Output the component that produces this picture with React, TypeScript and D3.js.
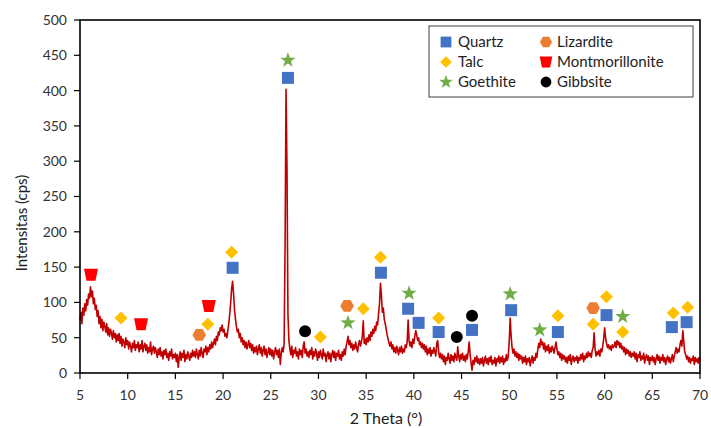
import React from 'react';
import * as d3 from 'd3';

// XRD scan, 2 theta from 5 to 70 in 0.1 steps
const thetaStart = 5;
const thetaStep = 0.1;
const intensity = [
  74, 86, 70, 92, 82, 98, 88, 104, 96, 112, 106, 122, 108, 116, 98, 106, 90, 96, 80, 88,
  70, 80, 64, 76, 60, 72, 66, 58, 70, 54, 64, 52, 62, 56, 48, 60, 50, 56, 44, 54,
  46, 56, 42, 52, 38, 48, 44, 36, 50, 40, 46, 34, 44, 38, 30, 42, 36, 46, 32, 40,
  36, 44, 30, 40, 34, 46, 30, 38, 42, 32, 40, 28, 36, 30, 44, 26, 34, 38, 28, 36,
  30, 22, 34, 26, 36, 24, 30, 20, 32, 26, 34, 22, 28, 18, 30, 24, 34, 20, 26, 22,
  28, 16, 26, 8, 22, 30, 18, 28, 22, 32, 16, 26, 20, 30, 24, 18, 28, 22, 32, 24,
  30, 22, 34, 26, 20, 32, 24, 36, 28, 22, 34, 30, 38, 26, 36, 30, 40, 34, 44, 36,
  42, 48, 40, 52, 46, 58, 54, 64, 60, 68, 58, 62, 52, 56, 50, 60, 70, 84, 100, 120,
  130, 112, 90, 76, 66, 58, 62, 50, 56, 44, 50, 40, 46, 36, 44, 34, 40, 46, 36, 42,
  32, 40, 28, 36, 30, 38, 26, 34, 40, 28, 36, 24, 32, 38, 26, 34, 22, 30, 36, 26,
  34, 24, 32, 20, 30, 36, 26, 32, 22, 34, 12, 28, 36, 30, 42, 180, 402, 290, 84, 46,
  34, 26, 38, 22, 32, 28, 36, 24, 30, 20, 34, 26, 32, 22, 38, 44, 28, 34, 24, 30,
  22, 32, 26, 36, 20, 30, 24, 34, 28, 18, 30, 22, 32, 26, 20, 34, 24, 28, 16, 26,
  30, 20, 28, 16, 26, 32, 22, 30, 18, 28, 24, 32, 20, 26, 18, 30, 24, 34, 26, 38,
  44, 52, 40, 46, 36, 42, 32, 40, 34, 44, 36, 30, 40, 46, 38, 44, 52, 74, 42, 48,
  40, 50, 44, 54, 46, 58, 52, 62, 56, 66, 60, 72, 68, 84, 98, 127, 110, 86, 92, 76,
  70, 62, 54, 48, 42, 38, 44, 34, 40, 30, 36, 28, 38, 32, 26, 36, 30, 38, 28, 34,
  30, 40, 36, 44, 75, 46, 38, 44, 36, 48, 42, 52, 60, 54, 46, 50, 40, 44, 36, 42,
  34, 40, 30, 38, 26, 34, 28, 36, 24, 32, 28, 36, 30, 24, 42, 46, 30, 22, 28, 20,
  26, 16, 24, 12, 22, 18, 28, 20, 14, 26, 18, 24, 16, 28, 22, 18, 37, 24, 16, 26,
  20, 28, 18, 24, 16, 26, 20, 30, 44, 26, 14, 4, 18, 12, 22, 16, 24, 14, 20, 12,
  20, 14, 22, 10, 18, 24, 14, 20, 12, 22, 16, 24, 12, 18, 14, 22, 10, 20, 16, 24,
  14, 22, 16, 24, 12, 20, 16, 26, 18, 24, 45, 78, 52, 36, 28, 34, 24, 30, 22, 28,
  18, 26, 20, 24, 14, 22, 16, 24, 12, 20, 16, 22, 10, 18, 24, 14, 22, 18, 28, 22,
  34, 42, 36, 48, 40, 44, 34, 42, 30, 38, 32, 40, 28, 36, 30, 38, 34, 28, 36, 44,
  34, 26, 30, 22, 28, 18, 26, 20, 24, 16, 22, 14, 24, 18, 26, 12, 20, 24, 16, 22,
  18, 24, 14, 22, 18, 26, 20, 28, 16, 24, 20, 28, 22, 30, 24, 28, 22, 32, 36, 57,
  34, 24, 30, 26, 32, 24, 34, 30, 38, 48, 64, 50, 42, 36, 40, 34, 38, 32, 40, 36,
  38, 44, 36, 46, 40, 44, 36, 42, 34, 38, 30, 36, 26, 34, 28, 32, 24, 30, 22, 28,
  24, 30, 20, 28, 16, 26, 22, 30, 18, 24, 20, 28, 14, 22, 26, 18, 24, 12, 22, 18,
  24, 16, 22, 12, 20, 26, 18, 24, 14, 22, 18, 26, 16, 22, 12, 20, 24, 16, 22, 14,
  20, 26, 16, 24, 30, 36, 28, 34, 30, 40, 46, 38, 60, 44, 30, 26, 20, 24, 16, 22,
  14, 20, 18, 24, 12, 22, 16, 20, 14, 22, 18,
];

// peak markers [2theta, position]
const quartz = [[26.8, 418], [21.0, 149], [36.55, 142], [39.4, 91], [40.5, 71], [42.6, 58], [46.1, 61], [50.2, 89], [55.1, 58], [60.2, 82], [67.05, 65], [68.6, 72]];
const talc = [[9.3, 78], [18.4, 69], [20.9, 171], [30.2, 51], [34.7, 91], [36.5, 164], [42.6, 78], [55.1, 81], [58.8, 69], [60.2, 108], [61.9, 58], [67.2, 85], [68.7, 93]];
const goethite = [[26.8, 443], [33.1, 71], [39.5, 113], [50.1, 112], [53.2, 61], [61.9, 80]];
const lizardite = [[17.5, 54], [33.0, 95], [58.8, 92]];
const montmorillonite = [[6.15, 139], [11.4, 69], [18.5, 95]];
const gibbsite = [[28.6, 59], [44.5, 51], [46.1, 81]];

const xTicks = d3.range(5, 71, 5);
const yTicks = d3.range(0, 501, 50);

const font = 'Lato, "Open Sans", sans-serif';

const starPath = (ro: number, ri: number) => {
  const pts = d3.range(10).map((i) => {
    const r = i % 2 === 0 ? ro : ri;
    const a = -Math.PI / 2 + (i * Math.PI) / 5;
    return [r * Math.cos(a), r * Math.sin(a)];
  });
  return 'M' + pts.map((p) => p.join(',')).join('L') + 'Z';
};
const hexPath = (r: number) => {
  const pts = d3.range(6).map((i) => [r * Math.cos((i * Math.PI) / 3), r * Math.sin((i * Math.PI) / 3)]);
  return 'M' + pts.map((p) => p.join(',')).join('L') + 'Z';
};

const shapes: Record<string, { d: string; fill: string }> = {
  Quartz: { d: 'M-6,-6h12v12h-12z', fill: '#4472C4' },
  Talc: { d: 'M0,-6.5L6.5,0L0,6.5L-6.5,0Z', fill: '#FFC000' },
  Goethite: { d: starPath(8, 3.2), fill: '#70AD47' },
  Lizardite: { d: hexPath(6.8), fill: '#ED7D31' },
  Montmorillonite: { d: 'M-7,-6L7,-6L4.5,6L-4.5,6Z', fill: '#FF0000' },
  Gibbsite: { d: d3.symbol(d3.symbolCircle, 113)() as string, fill: '#000000' },
};

const series: [string, number[][]][] = [
  ['Quartz', quartz],
  ['Talc', talc],
  ['Goethite', goethite],
  ['Lizardite', lizardite],
  ['Montmorillonite', montmorillonite],
  ['Gibbsite', gibbsite],
];

export default function App() {
  const width = 711;
  const height = 428;
  const left = 80, right = 700, top = 20, bottom = 373;

  const x = d3.scaleLinear().domain([5, 70]).range([left, right]);
  const y = d3.scaleLinear().domain([0, 500]).range([bottom, top]);

  const line = d3
    .line<number>()
    .x((d, i) => x(thetaStart + i * thetaStep))
    .y((d) => y(d));

  const legendRows = [
    ['Quartz', 'Lizardite'],
    ['Talc', 'Montmorillonite'],
    ['Goethite', 'Gibbsite'],
  ];

  return (
    <svg width={width} height={height} style={{ position: 'absolute', left: 0, top: 0, background: '#fff' }} fontFamily={font}>
      <path d={line(intensity) as string} fill="none" stroke="#C00000" strokeWidth={1.6} strokeLinejoin="round" />

      <rect x={left} y={top} width={right - left} height={bottom - top} fill="none" stroke="#000" strokeWidth={1.6} />

      {yTicks.map((t) => (
        <g key={'y' + t}>
          <line x1={left - 6} x2={left} y1={y(t)} y2={y(t)} stroke="#000" strokeWidth={1.2} />
          <text x={left - 13} y={y(t)} dy="0.35em" textAnchor="end" fontSize={14} fill="#333">{t}</text>
        </g>
      ))}
      {xTicks.map((t) => (
        <g key={'x' + t}>
          <line x1={x(t)} x2={x(t)} y1={bottom} y2={bottom + 6} stroke="#000" strokeWidth={1.2} />
          <text x={x(t)} y={bottom + 27} textAnchor="middle" fontSize={14} fill="#333">{t}</text>
        </g>
      ))}

      <text transform="translate(22,223) rotate(-90)" textAnchor="middle" dy="0.35em" fontSize={15} fill="#222">
        Intensitas (cps)
      </text>
      <text x={386} y={424} textAnchor="middle" fontSize={16} fill="#222">2 Theta (°)</text>

      {series.map(([name, pts]) =>
        pts.map((p, i) => (
          <path key={name + i} d={shapes[name].d} fill={shapes[name].fill} transform={`translate(${x(p[0])},${y(p[1])})`} />
        ))
      )}

      <rect x={429} y={26} width={264} height={71} fill="#fff" stroke="#404040" strokeWidth={1} />
      {legendRows.map((row, r) =>
        row.map((name, c) => (
          <g key={name} transform={`translate(${c === 0 ? 446 : 546},${42 + r * 20})`}>
            <path d={shapes[name].d} fill={shapes[name].fill} transform="scale(0.9)" />
            <text x={c === 0 ? 12 : 11} dy="0.35em" fontSize={15} fill="#222">{name}</text>
          </g>
        ))
      )}
    </svg>
  );
}
